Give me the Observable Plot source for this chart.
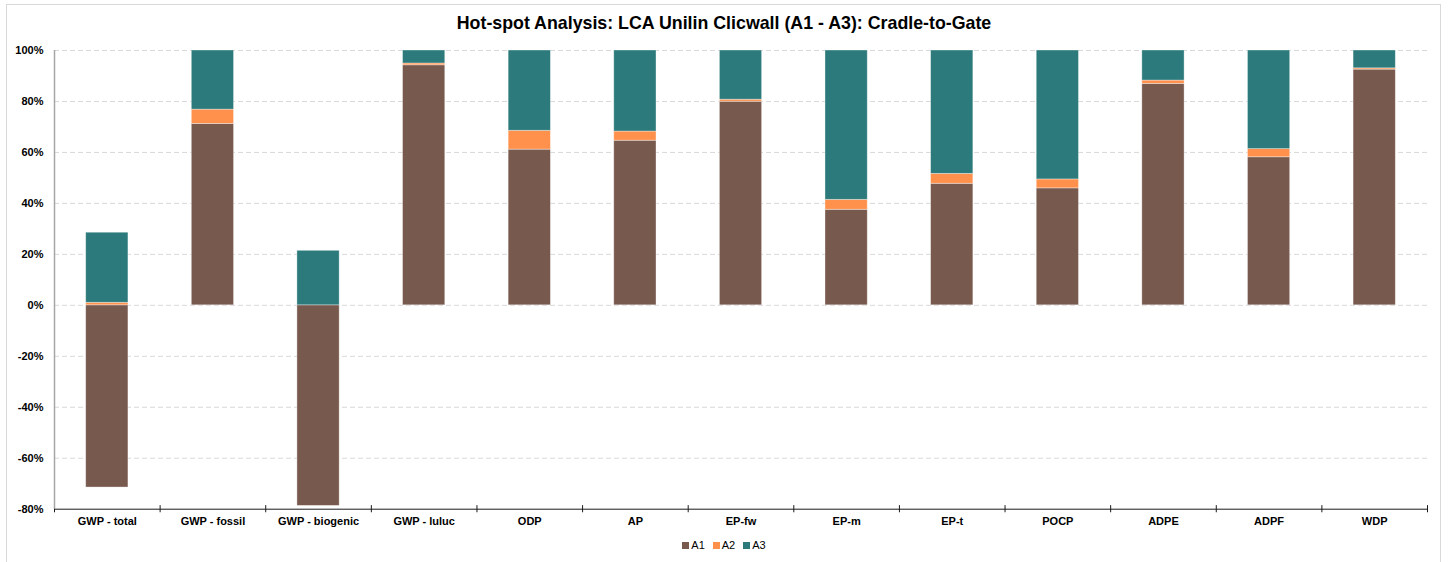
<!DOCTYPE html>
<html>
<head>
<meta charset="utf-8">
<script src="https://cdn.jsdelivr.net/npm/d3@7"></script>
<script src="https://cdn.jsdelivr.net/npm/@observablehq/plot@0.6"></script>
<style>
  html, body { margin: 0; padding: 0; background: #fff; }
  body { width: 1448px; height: 562px; position: relative; overflow: hidden;
         font-family: "Liberation Sans", Arial, sans-serif; }
  #frame { position: absolute; left: 6px; top: 4px; width: 1435px; height: 570px;
           border: 1px solid #d9d9d9; box-sizing: border-box; }
  #title { position: absolute; left: 0; top: 13px; width: 1448px; text-align: center;
           font-weight: bold; font-size: 17.8px; color: #000; line-height: 20px; }
  #chart { position: absolute; left: 0; top: 36px; }
  #legend { position: absolute; left: 0; top: 539px; width: 1448px; display: flex;
            justify-content: center; align-items: center; font-size: 11px; color: #000; }
  #legend .item { display: flex; align-items: center; margin: 0 4px 0 4px; }
  #legend .sw { width: 7px; height: 7px; margin-right: 2px; }
</style>
</head>
<body>
<div id="frame"></div>
<div id="title">Hot-spot Analysis: LCA Unilin Clicwall (A1 - A3): Cradle-to-Gate</div>
<div id="chart"></div>
<div id="legend"></div>
<script>
const categories = ["GWP - total","GWP - fossil","GWP - biogenic","GWP - luluc","ODP","AP","EP-fw","EP-m","EP-t","POCP","ADPE","ADPF","WDP"];
const seriesNames = ["A1","A2","A3"];
const A1 = [-71.5, 71.2, -78.7, 94.2, 61.1, 64.6, 79.9, 37.5, 47.7, 45.9, 86.9, 58.1, 92.5];
const A2 = [1.0, 5.6, 0.0, 0.7, 7.4, 3.6, 0.8, 3.9, 3.9, 3.5, 1.3, 3.2, 0.5];
const A3 = [27.5, 23.2, 21.4, 5.1, 31.5, 31.8, 19.3, 58.6, 48.4, 50.6, 11.8, 38.7, 7.0];
const yTicks = [-80, -60, -40, -20, 0, 20, 40, 60, 80, 100];
const colors = ["#77594E", "#FF914D", "#2C7A7B"];

const values = {A1, A2, A3};
const data = [];
categories.forEach((c, i) => {
  seriesNames.forEach(s => data.push({category: c, series: s, value: values[s][i]}));
});

const W = 1448, H = 500, mL = 54, mR = 21, mT = 14, mB = 27.3;
const step = (W - mL - mR) / categories.length;

const plot = Plot.plot({
  width: W, height: H,
  marginLeft: mL, marginRight: mR, marginTop: mT, marginBottom: mB,
  style: {fontFamily: "'Liberation Sans', Arial, sans-serif", fontSize: "11px", color: "#000", background: "transparent"},
  x: {domain: categories, paddingInner: 0.6, paddingOuter: 0.3, round: false, label: null},
  y: {domain: [-80, 100], label: null},
  color: {domain: seriesNames, range: colors},
  marks: [
    Plot.ruleY(yTicks.filter(d => d > -80), {y: d => d, stroke: "#d9d9d9", strokeWidth: 1, strokeDasharray: "5,3"}),
    Plot.barY(data, Plot.stackY({x: "category", y: "value", fill: "series", stroke: "#ffffff", strokeOpacity: 0.45, strokeWidth: 0.8})),
    Plot.ruleY([-80], {stroke: "#1a1a1a", strokeWidth: 1}),
    Plot.ruleX(categories, {x: d => d, dx: -step / 2, y1: -81.4, y2: -78.6, stroke: "#1a1a1a", strokeWidth: 1}),
    Plot.ruleX([categories[categories.length - 1]], {x: d => d, dx: step / 2, y1: -81.4, y2: -78.6, stroke: "#1a1a1a", strokeWidth: 1}),
    Plot.ruleX([categories[0]], {x: d => d, dx: -step / 2, y1: -80, y2: 100, stroke: "#a6a6a6", strokeWidth: 1.5}),
    Plot.axisY({ticks: yTicks, tickFormat: d => d + "%", tickSize: 0, tickPadding: 11, fontWeight: "bold", fontSize: 11}),
    Plot.axisX({tickSize: 0, tickPadding: 8, fontWeight: "bold", fontSize: 11})
  ]
});
document.getElementById("chart").appendChild(plot);

const legend = document.getElementById("legend");
seriesNames.forEach((s, i) => {
  const item = document.createElement("div");
  item.className = "item";
  const sw = document.createElement("div");
  sw.className = "sw";
  sw.style.background = colors[i];
  const t = document.createElement("span");
  t.textContent = s;
  item.appendChild(sw);
  item.appendChild(t);
  legend.appendChild(item);
});
</script>
</body>
</html>
